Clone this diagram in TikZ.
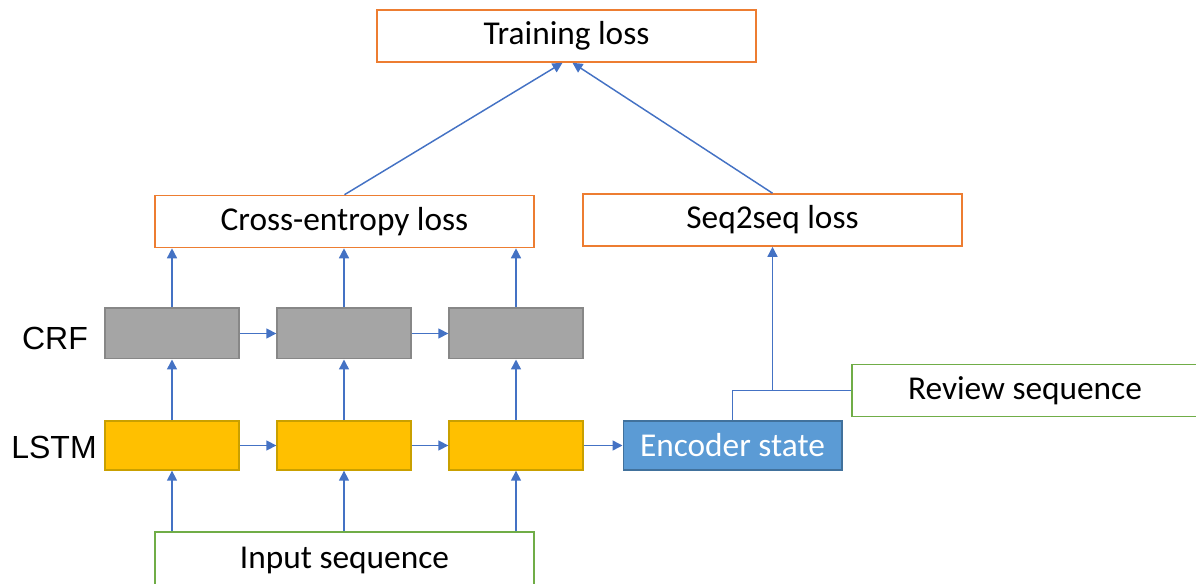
\documentclass[tikz,border=0pt]{standalone}
\usepackage{fontspec}
\setmainfont{Carlito}
\newfontfamily\labelfont{Liberation Sans}
\usetikzlibrary{arrows.meta,positioning,calc}
\definecolor{lossorange}{HTML}{ED7D31}
\definecolor{seqgreen}{HTML}{70AD47}
\definecolor{crfgray}{HTML}{A5A5A5}
\definecolor{crfedge}{HTML}{878787}
\definecolor{lstmgold}{HTML}{FFC000}
\definecolor{lstmedge}{HTML}{C9A000}
\definecolor{encblue}{HTML}{5B9BD5}
\definecolor{encedge}{HTML}{41719C}
\definecolor{linkblue}{HTML}{4472C4}

\begin{document}
\begin{tikzpicture}[
    x=0.75pt, y=-0.75pt,
    lossbox/.style={draw=lossorange, fill=white, line width=1.2pt,
                    minimum width=284pt, minimum height=39pt, inner sep=0pt,
                    font=\fontsize{25}{30}\selectfont},
    seqbox/.style={lossbox, draw=seqgreen},
    crfbox/.style={draw=crfedge, fill=crfgray, line width=1pt,
                   minimum width=100.5pt, minimum height=38pt, inner sep=0pt},
    lstmbox/.style={crfbox, draw=lstmedge, fill=lstmgold, minimum height=36.75pt},
    encbox/.style={draw=encedge, fill=encblue, line width=1pt, text=white,
                   minimum width=164pt, minimum height=36.75pt, inner sep=0pt,
                   font=\fontsize{25}{30}\selectfont},
    rowlabel/.style={font=\labelfont\fontsize{24}{28}\selectfont},
    arrow/.style={-{Triangle[length=7.5pt,width=7.5pt]}, draw=linkblue, line width=1.1pt},
    link/.style={draw=linkblue, line width=1.1pt},
]
    \useasboundingbox (0,0) rectangle (1196,584);

    % losses
    \node[lossbox] (train) at (566.5,36)  {Training loss};
    \node[lossbox] (ce)    at (344.5,221.5) {Cross-entropy loss};
    \node[lossbox] (s2s)   at (772.5,220) {Seq2seq loss};

    % tagger layers
    \node[crfbox]  (crf1)  at (172,333.5) {};
    \node[crfbox]  (crf2)  at (344,333.5) {};
    \node[crfbox]  (crf3)  at (516,333.5) {};
    \node[lstmbox] (lstm1) at (172,445.5) {};
    \node[lstmbox] (lstm2) at (344,445.5) {};
    \node[lstmbox] (lstm3) at (516,445.5) {};
    \node[encbox]  (enc)   at (732.5,445.5) {Encoder state};

    \node[rowlabel] (crflab)  at (55,338) {CRF};
    \node[rowlabel] (lstmlab) at (54,447) {LSTM};

    % sequences
    \node[seqbox, minimum width=259.5pt] (review) at (1025,390.5) {Review sequence};
    \node[seqbox, minimum height=42pt]  (input) at (344.5,560) {Input sequence};

    \foreach \i in {1,2,3} {
        \draw[arrow] (input.north -| lstm\i) -- (lstm\i.south);
        \draw[arrow] (lstm\i) -- (crf\i);
        \draw[arrow] (crf\i.north) -- (ce.south -| crf\i);
    }
    \draw[arrow] (lstm1) -- (lstm2);
    \draw[arrow] (lstm2) -- (lstm3);
    \draw[arrow] (lstm3) -- (enc);
    \draw[arrow] (crf1) -- (crf2);
    \draw[arrow] (crf2) -- (crf3);

    \draw[arrow] (ce.north) -- ($(train.south)+(-4,0)$);
    \draw[arrow] (s2s.north) -- ($(train.south)+(6,0)$);

    \draw[link] (enc.north) |- (review.west);
    \draw[arrow] (s2s.south |- review.west) -- (s2s.south);
\end{tikzpicture}
\end{document}
